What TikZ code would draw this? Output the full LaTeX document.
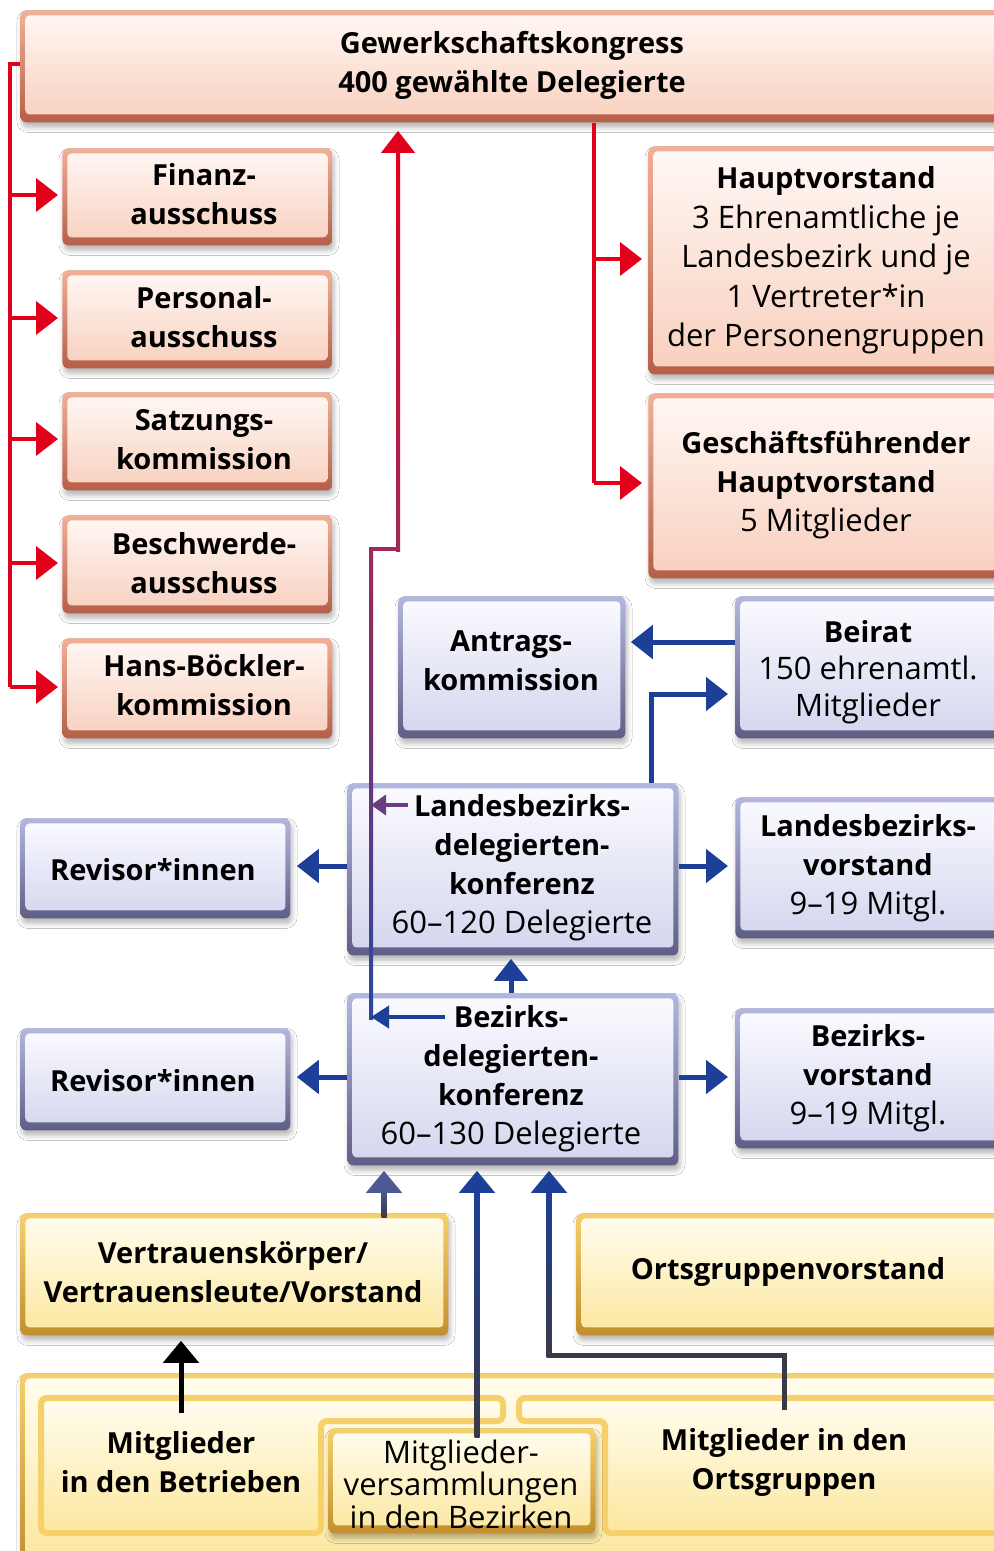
\documentclass[tikz,border=0pt]{standalone}
\usepackage{fontspec}
\setmainfont{Open Sans}
\usetikzlibrary{arrows.meta,shadows.blur,calc}
\definecolor{cRed}{HTML}{E2001A}
\definecolor{cMar}{HTML}{A0285A}
\definecolor{cPur}{HTML}{6A3D80}
\definecolor{cBl}{HTML}{1D3F98}
\definecolor{cBlb}{HTML}{2A48A0}
\definecolor{cGr}{HTML}{3A3A46}
\definecolor{cGB}{HTML}{4E5893}
\definecolor{pOa}{HTML}{F2B096}
\definecolor{pOb}{HTML}{B65E48}
\definecolor{pIa}{HTML}{FFF8F5}
\definecolor{pIb}{HTML}{F8CFBD}
\definecolor{bOa}{HTML}{B3B7E0}
\definecolor{bOb}{HTML}{5E5E86}
\definecolor{bIa}{HTML}{FBFBFF}
\definecolor{bIb}{HTML}{D3D5EE}
\definecolor{yOa}{HTML}{F6D06A}
\definecolor{yOb}{HTML}{C38F2E}
\definecolor{yIa}{HTML}{FFFDF0}
\definecolor{yIb}{HTML}{FCE79E}
\newcommand\bt[1]{{\fontsize{14.5}{19.5}\selectfont\bfseries #1}}
\tikzset{
  nf/.style={font=\fontsize{15.5}{19.5}\selectfont},
  bf/.style={font=\fontsize{14.5}{19.5}\selectfont\bfseries},
  tx/.style={inner sep=0pt, align=center},
  base/.style={anchor=north west, inner sep=0pt, rounded corners=3pt,
    blur shadow={shadow xshift=0.8pt, shadow yshift=-2.5pt, shadow blur radius=2.5pt, shadow opacity=28}},
  bevel/.style n args={4}{top color=#1, bottom color=#2,
    path picture={\shade[top color=#3, bottom color=#4, rounded corners=2pt]
      ([shift={(2.5pt,-2.5pt)}]path picture bounding box.north west) rectangle
      ([shift={(-2.5pt,4pt)}]path picture bounding box.south east);}},
  pbox/.style={base, bevel={pOa}{pOb}{pIa}{pIb}},
  bbox/.style={base, bevel={bOa}{bOb}{bIa}{bIb}},
  ybox/.style={base, bevel={yOa}{yOb}{yIa}{yIb}},
  lshape/.style={draw=yOa, line width=3pt, top color=yIa, bottom color=yIb, rounded corners=3pt},
  redarr/.style={line width=2pt, cRed, -{Triangle[length=11pt,width=16.5pt]}},
  redln/.style={line width=2pt, cRed},
  bluearr/.style={line width=2.5pt, cBl, -{Triangle[length=11pt,width=16.5pt]}},
  uparr/.style={line width=2.5pt, -{Triangle[length=11pt,width=17.5pt]}},
}
\begin{document}
\begin{tikzpicture}[x=0.5pt,y=-0.5pt]
\useasboundingbox (0,0) rectangle (994,1551);
\fill[white] (0,0) rectangle (994,1551);
\clip (0,0) rectangle (994,1551);

% ---------- peach boxes ----------
\node[pbox,minimum width=492pt,minimum height=56pt] (gk) at (20,10) {};
\node[tx,bf] (gk-t) at (512,65) {Gewerkschaftskongress\\400 gewählte Delegierte};
\node[pbox,minimum width=135pt,minimum height=48.5pt] (fin) at (62,148) {};
\node[tx,bf] (fin-t) at (204,194) {Finanz-\\ausschuss};
\node[pbox,minimum width=135pt,minimum height=49pt] (pers) at (62,270) {};
\node[tx,bf] (pers-t) at (204,317) {Personal-\\ausschuss};
\node[pbox,minimum width=135pt,minimum height=49pt] (satz) at (62,392) {};
\node[tx,bf] (satz-t) at (204,439.5) {Satzungs-\\kommission};
\node[pbox,minimum width=135pt,minimum height=49pt] (besch) at (62,515) {};
\node[tx,bf] (besch-t) at (204,563) {Beschwerde-\\ausschuss};
\node[pbox,minimum width=135pt,minimum height=50pt] (hbk) at (62,638) {};
\node[tx,bf] (hbk-t) at (204,685.5) {Hans-Böckler-\\kommission};
\node[pbox,minimum width=178pt,minimum height=114pt] (hv) at (648,146) {};
\node[tx,nf,font=\fontsize{15.5}{19.75}\selectfont] (hv-t) at (826,260.5) {\bt{Hauptvorstand}\\3 Ehrenamtliche je\\Landesbezirk und je\\1 Vertreter*in\\der Personengruppen};
\node[pbox,minimum width=178pt,minimum height=92.5pt] (ghv) at (648,393) {};
\node[tx,nf] (ghv-t) at (826,485) {\bt{Geschäftsführender}\\\bt{Hauptvorstand}\\5 Mitglieder};

% ---------- blue boxes ----------
\node[bbox,minimum width=113.5pt,minimum height=71pt] (ak) at (398,596) {};
\node[tx,bf] (ak-t) at (511,661) {Antrags-\\kommission};
\node[bbox,minimum width=134.5pt,minimum height=71pt] (beirat) at (735,596) {};
\node[tx,nf,font=\fontsize{15.5}{18.5}\selectfont] (beirat-t) at (868,672) {\bt{Beirat}\\150 ehrenamtl.\\Mitglieder};
\node[bbox,minimum width=165.5pt,minimum height=86pt] (ldk) at (347,783) {};
\node[tx,nf] (ldk-t) at (522,867.5) {\bt{Landesbezirks-}\\\bt{delegierten-}\\\bt{konferenz}\\60–120 Delegierte};
\node[bbox,minimum width=135pt,minimum height=50pt] (rev1) at (20,818) {};
\node[tx,bf] (rev1-t) at (153,870) {Revisor*innen};
\node[bbox,minimum width=134.5pt,minimum height=70.5pt] (lbv) at (735,797) {};
\node[tx,nf] (lbv-t) at (868,868) {\bt{Landesbezirks-}\\\bt{vorstand}\\9–19 Mitgl.};
\node[bbox,minimum width=165.5pt,minimum height=86pt] (bdk) at (347,993) {};
\node[tx,nf] (bdk-t) at (511,1078.5) {\bt{Bezirks-}\\\bt{delegierten-}\\\bt{konferenz}\\60–130 Delegierte};
\node[bbox,minimum width=135pt,minimum height=51pt] (rev2) at (20,1028) {};
\node[tx,bf] (rev2-t) at (153,1081) {Revisor*innen};
\node[bbox,minimum width=134.5pt,minimum height=70pt] (bv) at (735,1008) {};
\node[tx,nf] (bv-t) at (868,1078) {\bt{Bezirks-}\\\bt{vorstand}\\9–19 Mitgl.};

% ---------- yellow boxes ----------
\node[ybox,minimum width=214pt,minimum height=61pt] (vk) at (20,1213) {};
\node[tx,bf] (vk-t) at (233,1272.5) {Vertrauenskörper/\\Vertrauensleute/Vorstand};
\node[ybox,minimum width=214pt,minimum height=61pt] (ogv) at (576,1213) {};
\node[tx,bf] (ogv-t) at (788,1272) {Ortsgruppenvorstand};
\node[ybox,minimum width=492pt,minimum height=95pt] (cont) at (20,1373) {};
\path[lshape] (41,1398) -- (503,1398) -- (503,1421) -- (321,1421) -- (321,1533) -- (41,1533) -- cycle;
\path[lshape] (519,1398) -- (1010,1398) -- (1010,1533) -- (605,1533) -- (605,1421) -- (519,1421) -- cycle;
\node[ybox,minimum width=133.5pt,minimum height=52.5pt] (mv) at (328,1428) {};
\node[tx,font=\fontsize{15.5}{16.25}\selectfont] (mv-t) at (461,1484) {Mitglieder-\\versammlungen\\in den Bezirken};
\node[tx,bf] (mb) at (181,1462) {Mitglieder\\in den Betrieben};
\node[tx,bf] (mo) at (784,1462) {Mitglieder in den\\Ortsgruppen};

% ---------- red connectors ----------
\coordinate (rl0) at (10,64);
\coordinate (rl1) at (10,687);
\draw[redln] (gk.west |- rl0) -- (rl0) -- (rl1);
\foreach \n/\yy in {fin/195,pers/318,satz/439,besch/563,hbk/687}
  \draw[redarr, shorten >=2pt] (10,\yy) -- (\n.west |- 0,\yy);
\coordinate (rr0) at (594,122);
\coordinate (rr1) at (594,483);
\draw[redln] (gk.south -| rr0) -- (rr1);
\draw[redarr, shorten >=3pt] (594,259) -- (hv.west |- 0,259);
\draw[redarr, shorten >=3pt] (rr1) -- (ghv.west |- rr1);

% ---------- long connector to Gewerkschaftskongress ----------
\coordinate (c1) at (371,1017);
\coordinate (c2) at (371,549);
\coordinate (c3) at (398,549);
\draw[redarr, shorten >=4pt] (c1) -- (c2) -- (c3) -- (c3 |- gk.south);
\shade[top color=cRed, bottom color=cMar] (396,150) rectangle (400,551);
\fill[cMar] (369,547) rectangle (400,551);
\shade[top color=cMar, bottom color=cBlb] (369,547) rectangle (373,1019);
\coordinate (la) at (408,805);
\coordinate (ba) at (445,1017);
\draw[line width=1.8pt, cPur, -{Triangle[length=7.5pt,width=10pt]}] (la) -- (c1 |- la);
\draw[line width=2pt, cBl, -{Triangle[length=9pt,width=11pt]}] (ba) -- (c1);

% ---------- blue connectors ----------
\draw[bluearr, shorten >=2.5pt] (beirat.west |- 0,642) -- (ak.east |- 0,642);
\coordinate (lb) at (651,694);
\draw[bluearr, shorten >=3.5pt] (ldk.north -| lb) -- (lb) -- (beirat.west |- lb);
\draw[bluearr, shorten >=3pt] (ldk.west |- 0,866) -- (rev1.east |- 0,866);
\draw[bluearr, shorten >=3.5pt] (ldk.east |- 0,866) -- (lbv.west |- 0,866);
\draw[bluearr, shorten >=1.5pt] (bdk.north -| 511,0) -- (ldk.south -| 511,0);
\draw[bluearr, shorten >=3pt] (bdk.west |- 0,1077) -- (rev2.east |- 0,1077);
\draw[bluearr, shorten >=3.5pt] (bdk.east |- 0,1077) -- (bv.west |- 0,1077);

% ---------- bottom connectors ----------
\coordinate (xv) at (384,1217);
\draw[uparr, cGB, shorten >=2.5pt] (xv) -- (bdk.south -| xv);
\shade[top color=cGB, bottom color=cGr] (381.5,1190) rectangle (386.5,1217);
\coordinate (xm) at (477,1437);
\draw[uparr, cBl, shorten >=2.5pt] (xm) -- (bdk.south -| xm);
\shade[top color=cBl, bottom color=cGr] (474.5,1190) rectangle (479.5,1437);
\coordinate (xo) at (784,1410);
\coordinate (xo1) at (784,1355);
\coordinate (xo2) at (549,1355);
\draw[uparr, cBl, shorten >=2.5pt] (xo) -- (xo1) -- (xo2) -- (bdk.south -| xo2);
\draw[line width=2.5pt, cGr] (xo) -- (xo1) -- (xo2);
\shade[top color=cBl, bottom color=cGr] (546.5,1190) rectangle (551.5,1357.5);
\coordinate (xb) at (181,1413);
\draw[uparr, black, shorten >=2.5pt] (xb) -- (vk.south -| xb);
\end{tikzpicture}
\end{document}
